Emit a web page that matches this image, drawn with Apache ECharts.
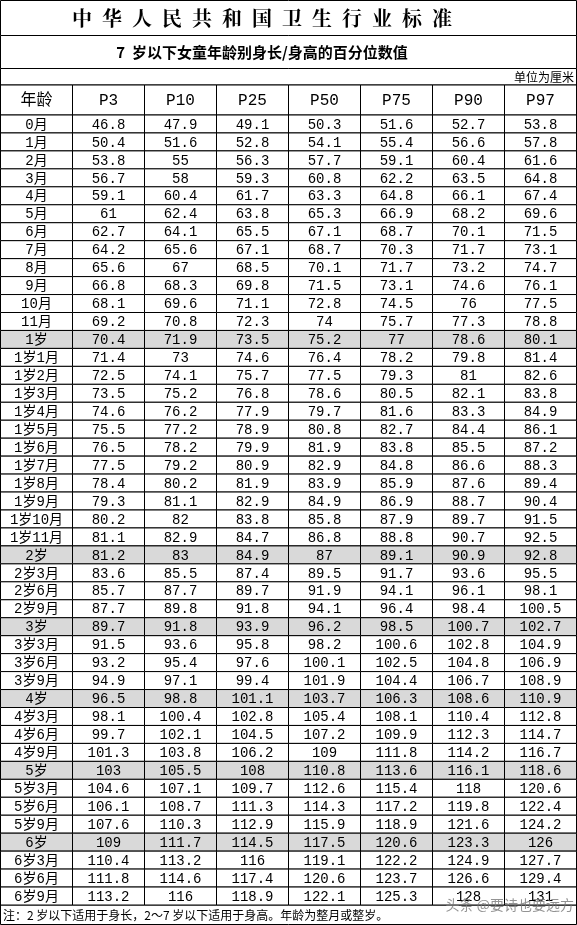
<!DOCTYPE html>
<html><head><meta charset="utf-8">
<script src="https://cdn.jsdelivr.net/npm/echarts@6/dist/echarts.min.js"></script>
<style>html,body{margin:0;padding:0;background:#fff}#c{width:577px;height:925px}</style>
</head><body><div id="c"></div>
<script>
const columns = ['年龄', 'P3', 'P10', 'P25', 'P50', 'P75', 'P90', 'P97'];
const ages = ['0月','1月','2月','3月','4月','5月','6月','7月','8月','9月','10月','11月',
  '1岁','1岁1月','1岁2月','1岁3月','1岁4月','1岁5月','1岁6月','1岁7月','1岁8月','1岁9月','1岁10月','1岁11月',
  '2岁','2岁3月','2岁6月','2岁9月','3岁','3岁3月','3岁6月','3岁9月','4岁','4岁3月','4岁6月','4岁9月',
  '5岁','5岁3月','5岁6月','5岁9月','6岁','6岁3月','6岁6月','6岁9月'];
const p3 = [46.8,50.4,53.8,56.7,59.1,61,62.7,64.2,65.6,66.8,68.1,69.2,70.4,71.4,72.5,73.5,74.6,75.5,76.5,77.5,78.4,79.3,80.2,81.1,81.2,83.6,85.7,87.7,89.7,91.5,93.2,94.9,96.5,98.1,99.7,101.3,103,104.6,106.1,107.6,109,110.4,111.8,113.2];
const p10 = [47.9,51.6,55,58,60.4,62.4,64.1,65.6,67,68.3,69.6,70.8,71.9,73,74.1,75.2,76.2,77.2,78.2,79.2,80.2,81.1,82,82.9,83,85.5,87.7,89.8,91.8,93.6,95.4,97.1,98.8,100.4,102.1,103.8,105.5,107.1,108.7,110.3,111.7,113.2,114.6,116];
const p25 = [49.1,52.8,56.3,59.3,61.7,63.8,65.5,67.1,68.5,69.8,71.1,72.3,73.5,74.6,75.7,76.8,77.9,78.9,79.9,80.9,81.9,82.9,83.8,84.7,84.9,87.4,89.7,91.8,93.9,95.8,97.6,99.4,101.1,102.8,104.5,106.2,108,109.7,111.3,112.9,114.5,116,117.4,118.9];
const p50 = [50.3,54.1,57.7,60.8,63.3,65.3,67.1,68.7,70.1,71.5,72.8,74,75.2,76.4,77.5,78.6,79.7,80.8,81.9,82.9,83.9,84.9,85.8,86.8,87,89.5,91.9,94.1,96.2,98.2,100.1,101.9,103.7,105.4,107.2,109,110.8,112.6,114.3,115.9,117.5,119.1,120.6,122.1];
const p75 = [51.6,55.4,59.1,62.2,64.8,66.9,68.7,70.3,71.7,73.1,74.5,75.7,77,78.2,79.3,80.5,81.6,82.7,83.8,84.8,85.9,86.9,87.9,88.8,89.1,91.7,94.1,96.4,98.5,100.6,102.5,104.4,106.3,108.1,109.9,111.8,113.6,115.4,117.2,118.9,120.6,122.2,123.7,125.3];
const p90 = [52.7,56.6,60.4,63.5,66.1,68.2,70.1,71.7,73.2,74.6,76,77.3,78.6,79.8,81,82.1,83.3,84.4,85.5,86.6,87.6,88.7,89.7,90.7,90.9,93.6,96.1,98.4,100.7,102.8,104.8,106.7,108.6,110.4,112.3,114.2,116.1,118,119.8,121.6,123.3,124.9,126.6,128];
const p97 = [53.8,57.8,61.6,64.8,67.4,69.6,71.5,73.1,74.7,76.1,77.5,78.8,80.1,81.4,82.6,83.8,84.9,86.1,87.2,88.3,89.4,90.4,91.5,92.5,92.8,95.5,98.1,100.5,102.7,104.9,106.9,108.9,110.9,112.8,114.7,116.7,118.6,120.6,122.4,124.2,126,127.7,129.4,131];
const wholeYears = ['1岁','2岁','3岁','4岁','5岁','6岁'];

const series = [p3, p10, p25, p50, p75, p90, p97];
const cells = [], cellText = [];
ages.forEach((a, r) => {
  cells.push([0, r]); cellText.push(a);
  series.forEach((s, i) => { cells.push([i + 1, r]); cellText.push(String(s[r])); });
});
const headerCells = columns.map((c, i) => [i, 0]);
const FONT = '"Liberation Mono", "Noto Sans CJK SC", monospace';

function cellRenderer(fontSize, texts, shade) {
  return function (params, api) {
    const col = api.value(0), row = api.value(1);
    const p = api.coord([col, row]);
    const sz = api.size([1, 1]);
    const shaded = shade && wholeYears.includes(ages[row]);
    return {
      type: 'group',
      children: [
        { type: 'rect', shape: { x: p[0] - sz[0] / 2, y: p[1] - sz[1] / 2, width: sz[0], height: sz[1] },
          style: { fill: shaded ? '#d9d9d9' : '#fff', stroke: '#000', lineWidth: 1 } },
        { type: 'text', x: p[0], y: p[1] + 1,
          style: { text: texts[params.dataIndex], fill: '#000', font: fontSize + 'px ' + FONT, align: 'center', verticalAlign: 'middle' } }
      ]
    };
  };
}

const chart = echarts.init(document.getElementById('c'));
chart.setOption({
  animation: false,
  grid: [
    { left: 0.5, right: 0.5, top: 85, height: 30 },
    { left: 0.5, right: 0.5, top: 115, bottom: 20 }
  ],
  xAxis: [
    { gridIndex: 0, type: 'category', data: columns, show: false },
    { gridIndex: 1, type: 'category', data: columns, show: false }
  ],
  yAxis: [
    { gridIndex: 0, type: 'category', data: ['h'], show: false },
    { gridIndex: 1, type: 'category', data: ages, inverse: true, show: false }
  ],
  graphic: [
    { type: 'rect', shape: { x: 0.5, y: 0.5, width: 576, height: 35 }, style: { fill: '#fff', stroke: '#000' } },
    { type: 'text', x: 262, y: 18, style: { text: '中  华  人  民  共  和  国  卫  生  行  业  标  准', font: 'bold 20px "Noto Serif CJK SC", "Noto Sans CJK SC"', fill: '#000', align: 'center', verticalAlign: 'middle' } },
    { type: 'rect', shape: { x: 0.5, y: 35.5, width: 576, height: 33 }, style: { fill: '#fff', stroke: '#000' } },
    { type: 'text', x: 262, y: 52, style: { text: '7  岁以下女童年龄别身长/身高的百分位数值', font: 'bold 15px "Noto Sans CJK SC"', fill: '#000', align: 'center', verticalAlign: 'middle' } },
    { type: 'rect', shape: { x: 0.5, y: 68.5, width: 576, height: 16.5 }, style: { fill: '#fff', stroke: '#000' } },
    { type: 'text', x: 574, y: 77, style: { text: '单位为厘米', font: '12px "Noto Sans CJK SC"', fill: '#000', align: 'right', verticalAlign: 'middle' } },
    { type: 'rect', shape: { x: 0.5, y: 905, width: 576, height: 19.5 }, style: { fill: '#fff', stroke: '#000' } },
    { type: 'text', x: 3, y: 915, style: { text: '注：2 岁以下适用于身长，2～7 岁以下适用于身高。年龄为整月或整岁。', font: '12px "Noto Sans CJK SC"', fill: '#000', align: 'left', verticalAlign: 'middle' } },
    { type: 'text', x: 574, y: 905, z: 100, style: { text: '头条 @要诗也要远方', font: '14px "Noto Sans CJK SC"', fill: 'rgba(120,120,120,0.8)', align: 'right', verticalAlign: 'middle' } }
  ],
  series: [
    { type: 'custom', xAxisIndex: 0, yAxisIndex: 0, data: headerCells, renderItem: cellRenderer(16, columns, false) },
    { type: 'custom', xAxisIndex: 1, yAxisIndex: 1, data: cells, renderItem: cellRenderer(14, cellText, true) }
  ]
});
</script></body></html>
